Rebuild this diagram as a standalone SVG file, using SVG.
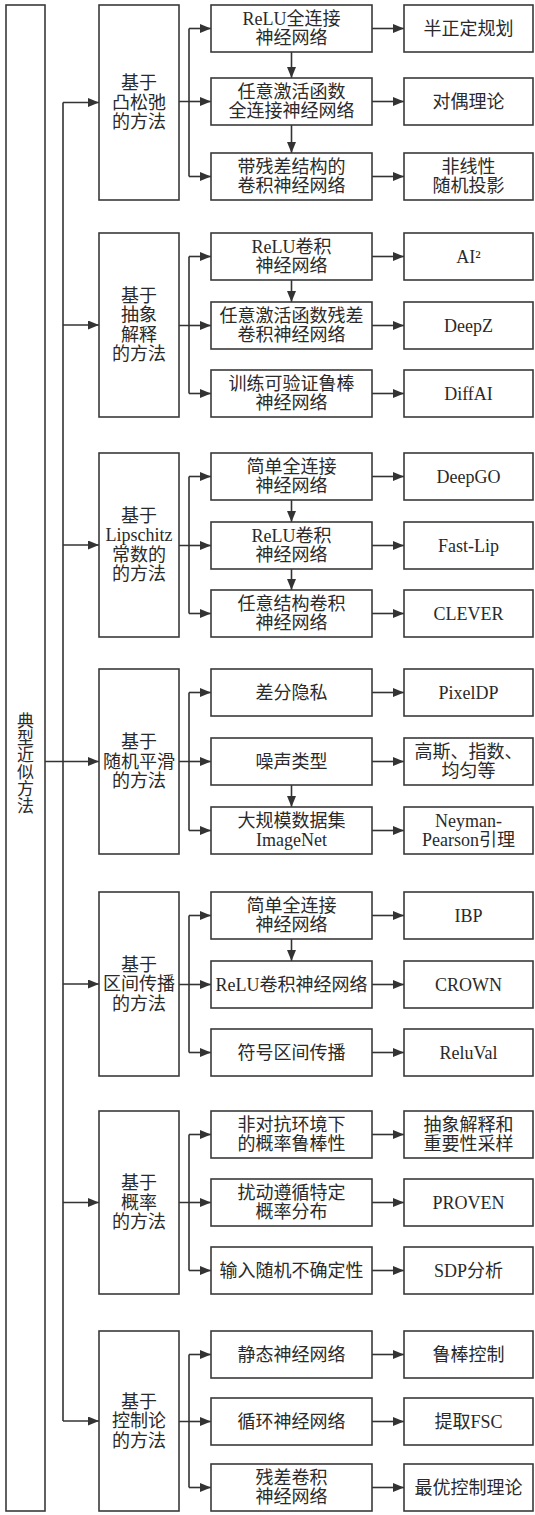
<svg xmlns="http://www.w3.org/2000/svg" width="535" height="1515" viewBox="0 0 535 1515">
<style>
.box{fill:#fff;stroke:#3a3a3a;stroke-width:1.6}
.ln{fill:none;stroke:#333;stroke-width:1.6}
.ar{fill:none;stroke:#333;stroke-width:1.6;marker-end:url(#ah)}
.t{font-family:"Liberation Serif","Noto Sans CJK SC",serif;font-size:18px;fill:#2a2a2a;text-anchor:middle;dominant-baseline:central}
.m{font-size:17px}
</style>
<defs>
<marker id="ah" markerWidth="11" markerHeight="9" refX="11" refY="4.5" orient="auto" markerUnits="userSpaceOnUse"><path d="M0,0 L11,4.5 L0,9 z" fill="#333"/></marker>
</defs>
<rect width="535" height="1515" fill="#fff"/>

<g id="connectors">
<!-- trunk -->
<path class="ln" d="M45,761.5 H63 M63,102.5 V1421"/>
<path class="ar" d="M63,102.5 H99"/>
<path class="ar" d="M63,325 H99"/>
<path class="ar" d="M63,545 H99"/>
<path class="ar" d="M63,761.5 H99"/>
<path class="ar" d="M63,984 H99"/>
<path class="ar" d="M63,1202.5 H99"/>
<path class="ar" d="M63,1421 H99"/>
<!-- G1 -->
<path class="ln" d="M179,101.5 H189 M189,28.5 V176.5"/>
<path class="ar" d="M189,28.5 H211"/><path class="ar" d="M189,101.5 H211"/><path class="ar" d="M189,176.5 H211"/>
<path class="ar" d="M372,28.5 H404"/><path class="ar" d="M372,101.5 H404"/><path class="ar" d="M372,176.5 H404"/>
<path class="ar" d="M291.5,52 V78"/><path class="ar" d="M291.5,125 V153"/>
<!-- G2 -->
<path class="ln" d="M179,325.5 H189 M189,256.5 V393.5"/>
<path class="ar" d="M189,256.5 H211"/><path class="ar" d="M189,325.5 H211"/><path class="ar" d="M189,393.5 H211"/>
<path class="ar" d="M372,256.5 H404"/><path class="ar" d="M372,325.5 H404"/><path class="ar" d="M372,393.5 H404"/>
<path class="ar" d="M291.5,280 V302"/>
<!-- G3 -->
<path class="ln" d="M179,545.5 H189 M189,476.5 V613.5"/>
<path class="ar" d="M189,476.5 H211"/><path class="ar" d="M189,545.5 H211"/><path class="ar" d="M189,613.5 H211"/>
<path class="ar" d="M372,476.5 H404"/><path class="ar" d="M372,545.5 H404"/><path class="ar" d="M372,613.5 H404"/>
<path class="ar" d="M291.5,500 V522"/><path class="ar" d="M291.5,569 V590"/>
<!-- G4 -->
<path class="ln" d="M179,761.5 H189 M189,692.5 V830.5"/>
<path class="ar" d="M189,692.5 H211"/><path class="ar" d="M189,761.5 H211"/><path class="ar" d="M189,830.5 H211"/>
<path class="ar" d="M372,692.5 H404"/><path class="ar" d="M372,761.5 H404"/><path class="ar" d="M372,830.5 H404"/>
<path class="ar" d="M291.5,785 V807"/>
<!-- G5 -->
<path class="ln" d="M179,984.5 H189 M189,915.5 V1052.5"/>
<path class="ar" d="M189,915.5 H211"/><path class="ar" d="M189,984.5 H211"/><path class="ar" d="M189,1052.5 H211"/>
<path class="ar" d="M372,915.5 H404"/><path class="ar" d="M372,984.5 H404"/><path class="ar" d="M372,1052.5 H404"/>
<path class="ar" d="M291.5,939 V961"/>
<!-- G6 -->
<path class="ln" d="M179,1202.5 H189 M189,1134.5 V1270.5"/>
<path class="ar" d="M189,1134.5 H211"/><path class="ar" d="M189,1202.5 H211"/><path class="ar" d="M189,1270.5 H211"/>
<path class="ar" d="M372,1134.5 H404"/><path class="ar" d="M372,1202.5 H404"/><path class="ar" d="M372,1270.5 H404"/>
<!-- G7 -->
<path class="ln" d="M179,1421.5 H189 M189,1354.5 V1487.5"/>
<path class="ar" d="M189,1354.5 H211"/><path class="ar" d="M189,1421.5 H211"/><path class="ar" d="M189,1487.5 H211"/>
<path class="ar" d="M372,1354.5 H404"/><path class="ar" d="M372,1421.5 H404"/><path class="ar" d="M372,1487.5 H404"/>
</g>

<g id="root">
<rect class="box" x="6" y="5" width="39" height="1506"/>
<text class="t m" x="25.5"><tspan x="25.5" y="720.5">典</tspan><tspan x="25.5" y="737.5">型</tspan><tspan x="25.5" y="754.5">近</tspan><tspan x="25.5" y="771.5">似</tspan><tspan x="25.5" y="788.5">方</tspan><tspan x="25.5" y="805.5">法</tspan></text>
</g>

<!-- Group 1 -->
<g id="g1-m"><rect class="box" x="99" y="5" width="80" height="195"/><text class="t"><tspan x="139" y="83">基于</tspan><tspan x="139" y="102.5">凸松弛</tspan><tspan x="139" y="122">的方法</tspan></text></g>
<g id="g1-a"><rect class="box" x="211" y="5" width="161" height="47"/><text class="t"><tspan x="291.5" y="19">ReLU全连接</tspan><tspan x="291.5" y="38">神经网络</tspan></text></g>
<g id="g1-b"><rect class="box" x="211" y="78" width="161" height="47"/><text class="t"><tspan x="291.5" y="92">任意激活函数</tspan><tspan x="291.5" y="111">全连接神经网络</tspan></text></g>
<g id="g1-c"><rect class="box" x="211" y="153" width="161" height="47"/><text class="t"><tspan x="291.5" y="167">带残差结构的</tspan><tspan x="291.5" y="186">卷积神经网络</tspan></text></g>
<g id="g1-a2"><rect class="box" x="404" y="5" width="129" height="47"/><text class="t" x="468.5" y="28.5">半正定规划</text></g>
<g id="g1-b2"><rect class="box" x="404" y="78" width="129" height="47"/><text class="t" x="468.5" y="101.5">对偶理论</text></g>
<g id="g1-c2"><rect class="box" x="404" y="153" width="129" height="47"/><text class="t"><tspan x="468.5" y="167">非线性</tspan><tspan x="468.5" y="186">随机投影</tspan></text></g>

<!-- Group 2 -->
<g id="g2-m"><rect class="box" x="99" y="233" width="80" height="184"/><text class="t"><tspan x="139" y="295.75">基于</tspan><tspan x="139" y="315.25">抽象</tspan><tspan x="139" y="334.75">解释</tspan><tspan x="139" y="354.25">的方法</tspan></text></g>
<g id="g2-a"><rect class="box" x="211" y="233" width="161" height="47"/><text class="t"><tspan x="291.5" y="247">ReLU卷积</tspan><tspan x="291.5" y="266">神经网络</tspan></text></g>
<g id="g2-b"><rect class="box" x="211" y="302" width="161" height="47"/><text class="t"><tspan x="291.5" y="316">任意激活函数残差</tspan><tspan x="291.5" y="335">卷积神经网络</tspan></text></g>
<g id="g2-c"><rect class="box" x="211" y="370" width="161" height="47"/><text class="t"><tspan x="291.5" y="384">训练可验证鲁棒</tspan><tspan x="291.5" y="403">神经网络</tspan></text></g>
<g id="g2-a2"><rect class="box" x="404" y="233" width="129" height="47"/><text class="t" x="468.5" y="256.5">AI²</text></g>
<g id="g2-b2"><rect class="box" x="404" y="302" width="129" height="47"/><text class="t" x="468.5" y="325.5">DeepZ</text></g>
<g id="g2-c2"><rect class="box" x="404" y="370" width="129" height="47"/><text class="t" x="468.5" y="393.5">DiffAI</text></g>

<!-- Group 3 -->
<g id="g3-m"><rect class="box" x="99" y="453" width="80" height="184"/><text class="t"><tspan x="139" y="515.75">基于</tspan><tspan x="139" y="535.25">Lipschitz</tspan><tspan x="139" y="554.75">常数的</tspan><tspan x="139" y="574.25">的方法</tspan></text></g>
<g id="g3-a"><rect class="box" x="211" y="453" width="161" height="47"/><text class="t"><tspan x="291.5" y="467">简单全连接</tspan><tspan x="291.5" y="486">神经网络</tspan></text></g>
<g id="g3-b"><rect class="box" x="211" y="522" width="161" height="47"/><text class="t"><tspan x="291.5" y="536">ReLU卷积</tspan><tspan x="291.5" y="555">神经网络</tspan></text></g>
<g id="g3-c"><rect class="box" x="211" y="590" width="161" height="47"/><text class="t"><tspan x="291.5" y="604">任意结构卷积</tspan><tspan x="291.5" y="623">神经网络</tspan></text></g>
<g id="g3-a2"><rect class="box" x="404" y="453" width="129" height="47"/><text class="t" x="468.5" y="476.5">DeepGO</text></g>
<g id="g3-b2"><rect class="box" x="404" y="522" width="129" height="47"/><text class="t" x="468.5" y="545.5">Fast-Lip</text></g>
<g id="g3-c2"><rect class="box" x="404" y="590" width="129" height="47"/><text class="t" x="468.5" y="613.5">CLEVER</text></g>

<!-- Group 4 -->
<g id="g4-m"><rect class="box" x="99" y="669" width="80" height="185"/><text class="t"><tspan x="139" y="742">基于</tspan><tspan x="139" y="761.5">随机平滑</tspan><tspan x="139" y="781">的方法</tspan></text></g>
<g id="g4-a"><rect class="box" x="211" y="669" width="161" height="47"/><text class="t" x="291.5" y="692.5">差分隐私</text></g>
<g id="g4-b"><rect class="box" x="211" y="738" width="161" height="47"/><text class="t" x="291.5" y="761.5">噪声类型</text></g>
<g id="g4-c"><rect class="box" x="211" y="807" width="161" height="47"/><text class="t"><tspan x="291.5" y="821">大规模数据集</tspan><tspan x="291.5" y="840">ImageNet</tspan></text></g>
<g id="g4-a2"><rect class="box" x="404" y="669" width="129" height="47"/><text class="t" x="468.5" y="692.5">PixelDP</text></g>
<g id="g4-b2"><rect class="box" x="404" y="738" width="129" height="47"/><text class="t"><tspan x="468.5" y="752">高斯、指数、</tspan><tspan x="468.5" y="771">均匀等</tspan></text></g>
<g id="g4-c2"><rect class="box" x="404" y="807" width="129" height="47"/><text class="t"><tspan x="468.5" y="821">Neyman-</tspan><tspan x="468.5" y="840">Pearson引理</tspan></text></g>

<!-- Group 5 -->
<g id="g5-m"><rect class="box" x="99" y="892" width="80" height="184"/><text class="t"><tspan x="139" y="964.5">基于</tspan><tspan x="139" y="984">区间传播</tspan><tspan x="139" y="1003.5">的方法</tspan></text></g>
<g id="g5-a"><rect class="box" x="211" y="892" width="161" height="47"/><text class="t"><tspan x="291.5" y="906">简单全连接</tspan><tspan x="291.5" y="925">神经网络</tspan></text></g>
<g id="g5-b"><rect class="box" x="211" y="961" width="161" height="47"/><text class="t" x="291.5" y="984.5">ReLU卷积神经网络</text></g>
<g id="g5-c"><rect class="box" x="211" y="1029" width="161" height="47"/><text class="t" x="291.5" y="1052.5">符号区间传播</text></g>
<g id="g5-a2"><rect class="box" x="404" y="892" width="129" height="47"/><text class="t" x="468.5" y="915.5">IBP</text></g>
<g id="g5-b2"><rect class="box" x="404" y="961" width="129" height="47"/><text class="t" x="468.5" y="984.5">CROWN</text></g>
<g id="g5-c2"><rect class="box" x="404" y="1029" width="129" height="47"/><text class="t" x="468.5" y="1052.5">ReluVal</text></g>

<!-- Group 6 -->
<g id="g6-m"><rect class="box" x="99" y="1111" width="80" height="183"/><text class="t"><tspan x="139" y="1183">基于</tspan><tspan x="139" y="1202.5">概率</tspan><tspan x="139" y="1222">的方法</tspan></text></g>
<g id="g6-a"><rect class="box" x="211" y="1111" width="161" height="47"/><text class="t"><tspan x="291.5" y="1125">非对抗环境下</tspan><tspan x="291.5" y="1144">的概率鲁棒性</tspan></text></g>
<g id="g6-b"><rect class="box" x="211" y="1179" width="161" height="47"/><text class="t"><tspan x="291.5" y="1193">扰动遵循特定</tspan><tspan x="291.5" y="1212">概率分布</tspan></text></g>
<g id="g6-c"><rect class="box" x="211" y="1247" width="161" height="47"/><text class="t" x="291.5" y="1270.5">输入随机不确定性</text></g>
<g id="g6-a2"><rect class="box" x="404" y="1111" width="129" height="47"/><text class="t"><tspan x="468.5" y="1125">抽象解释和</tspan><tspan x="468.5" y="1144">重要性采样</tspan></text></g>
<g id="g6-b2"><rect class="box" x="404" y="1179" width="129" height="47"/><text class="t" x="468.5" y="1202.5">PROVEN</text></g>
<g id="g6-c2"><rect class="box" x="404" y="1247" width="129" height="47"/><text class="t" x="468.5" y="1270.5">SDP分析</text></g>

<!-- Group 7 -->
<g id="g7-m"><rect class="box" x="99" y="1331" width="80" height="180"/><text class="t"><tspan x="139" y="1401.5">基于</tspan><tspan x="139" y="1421">控制论</tspan><tspan x="139" y="1440.5">的方法</tspan></text></g>
<g id="g7-a"><rect class="box" x="211" y="1331" width="161" height="47"/><text class="t" x="291.5" y="1354.5">静态神经网络</text></g>
<g id="g7-b"><rect class="box" x="211" y="1398" width="161" height="47"/><text class="t" x="291.5" y="1421.5">循环神经网络</text></g>
<g id="g7-c"><rect class="box" x="211" y="1464" width="161" height="47"/><text class="t"><tspan x="291.5" y="1478">残差卷积</tspan><tspan x="291.5" y="1497">神经网络</tspan></text></g>
<g id="g7-a2"><rect class="box" x="404" y="1331" width="129" height="47"/><text class="t" x="468.5" y="1354.5">鲁棒控制</text></g>
<g id="g7-b2"><rect class="box" x="404" y="1398" width="129" height="47"/><text class="t" x="468.5" y="1421.5">提取FSC</text></g>
<g id="g7-c2"><rect class="box" x="404" y="1464" width="129" height="47"/><text class="t" x="468.5" y="1487.5">最优控制理论</text></g>
</svg>
